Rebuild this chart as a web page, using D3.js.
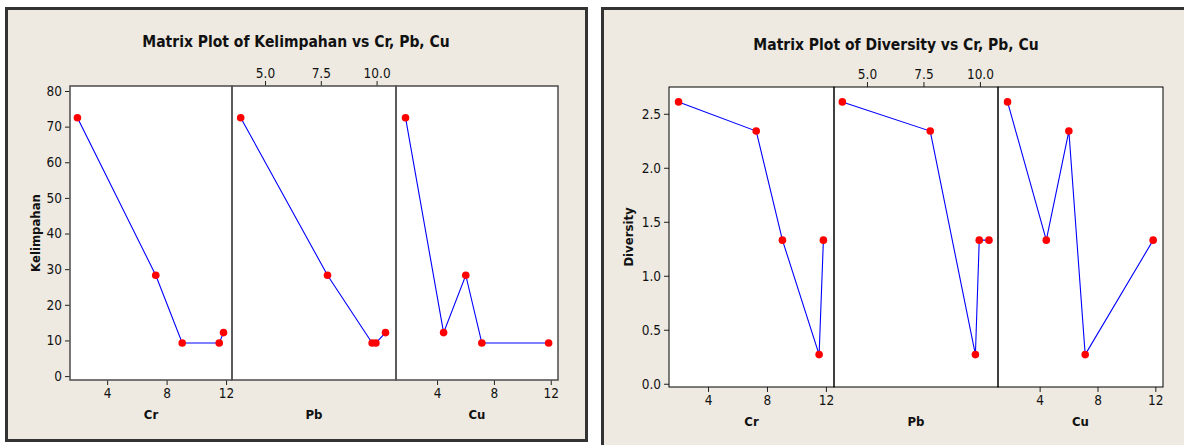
<!DOCTYPE html>
<html lang="id">
<head>
  <meta charset="UTF-8">
  <title>Matrix Plot Kelimpahan dan Diversity vs Cr, Pb, Cu</title>
  <script src="https://d3js.org/d3.v7.min.js"></script>
  <style>
    body { margin: 0; background: #fff; }
    svg text { font-family: "DejaVu Sans Condensed", "DejaVu Sans", sans-serif; font-stretch: condensed; fill: #111; }
    .title { font-weight: bold; font-size: 15.5px; }
    .axlabel { font-weight: bold; font-size: 13px; }
    .tick text { font-size: 13.5px; }
  </style>
</head>
<body>
  <div id="chart"></div>

  <script>
    // data (5 sites, same order in every array)
    const crValues = [2.0, 7.27, 9.05, 11.54, 11.83];
    const pbValues = [3.91, 7.8, 9.97, 9.8, 10.4];
    const cuValues = [1.78, 6.02, 11.85, 7.15, 4.46];
    const kelimpahanValues = [72.5, 28.3, 9.3, 9.3, 12.2];
    const diversityValues = [2.61, 2.34, 1.33, 0.27, 1.33];

    const predictorNames = ["Cr", "Pb", "Cu"];
    const crTicks = [4, 8, 12];
    const pbTicks = [5.0, 7.5, 10.0];
    const cuTicks = [4, 8, 12];
    const kelimpahanTicks = [0, 10, 20, 30, 40, 50, 60, 70, 80];
    const diversityTicks = [0.0, 0.5, 1.0, 1.5, 2.0, 2.5];

    const svg = d3.select("#chart").append("svg")
      .attr("width", 1184).attr("height", 445);

    const charts = [
      {
        title: "Matrix Plot of Kelimpahan vs Cr, Pb, Cu", yName: "Kelimpahan",
        yValues: kelimpahanValues, yTicks: kelimpahanTicks, yFormat: d3.format("d"), yDomain: [-1.1, 81.4],
        frame: {x: 6.5, y: 8.5, w: 580, h: 432}, titleX: 296, titleY: 47,
        left: 70, splits: [232, 396], right: 558, top: 86, bottom: 380,
        frameColor: "#555", frameWidth: 1.6, yLabelX: 40,
        xDomains: [[1.5, 12.4], [3.52, 10.87], [1.11, 12.51]]
      },
      {
        title: "Matrix Plot of Diversity vs Cr, Pb, Cu", yName: "Diversity",
        yValues: diversityValues, yTicks: diversityTicks, yFormat: d3.format(".1f"), yDomain: [-0.03, 2.748],
        frame: {x: 602.5, y: 8.5, w: 600, h: 500}, titleX: 896, titleY: 50,
        left: 669, splits: [834, 998], right: 1163, top: 87, bottom: 387,
        frameColor: "#000", frameWidth: 1, yLabelX: 633,
        xDomains: [[1.35, 12.55], [3.54, 10.8], [1.12, 12.53]]
      }
    ];

    const xValueSets = [crValues, pbValues, cuValues];
    const xTickSets = [crTicks, pbTicks, cuTicks];

    charts.forEach(c => {
      const g = svg.append("g");

      g.append("rect")
        .attr("x", c.frame.x).attr("y", c.frame.y)
        .attr("width", c.frame.w).attr("height", c.frame.h)
        .attr("fill", "#eeeae1").attr("stroke", "#333").attr("stroke-width", 3);

      g.append("text").attr("class", "title")
        .attr("x", c.titleX).attr("y", c.titleY)
        .attr("text-anchor", "middle").text(c.title);

      const y = d3.scaleLinear().domain(c.yDomain).range([c.bottom, c.top]);
      const edges = [c.left, ...c.splits, c.right];

      // panel backgrounds
      g.selectAll(".panel").data(predictorNames).enter().append("rect")
        .attr("x", (d, i) => edges[i]).attr("y", c.top)
        .attr("width", (d, i) => edges[i + 1] - edges[i]).attr("height", c.bottom - c.top)
        .attr("fill", "#fff");

      // y axis
      g.append("g")
        .attr("transform", `translate(${c.left},0)`)
        .call(d3.axisLeft(y).tickValues(c.yTicks).tickFormat(c.yFormat).tickSize(5).tickPadding(3))
        .call(a => a.select(".domain").remove())
        .call(a => a.selectAll("line").attr("stroke", "#222"));

      g.append("text").attr("class", "axlabel")
        .attr("transform", `translate(${c.yLabelX},${(c.top + c.bottom) / 2}) rotate(-90)`)
        .attr("text-anchor", "middle").text(c.yName);

      predictorNames.forEach((name, i) => {
        const x = d3.scaleLinear().domain(c.xDomains[i]).range([edges[i], edges[i + 1]]);
        const axis = i === 1
          ? d3.axisTop(x).tickValues(xTickSets[i]).tickFormat(d3.format(".1f"))
          : d3.axisBottom(x).tickValues(xTickSets[i]).tickFormat(d3.format("d"));
        g.append("g")
          .attr("transform", `translate(0,${i === 1 ? c.top : c.bottom})`)
          .call(axis.tickSize(5).tickPadding(3))
          .call(a => a.select(".domain").remove())
          .call(a => a.selectAll("line").attr("stroke", "#222"));

        g.append("text").attr("class", "axlabel")
          .attr("x", (edges[i] + edges[i + 1]) / 2).attr("y", c.bottom + 39)
          .attr("text-anchor", "middle").text(name);

        const pts = xValueSets[i].map((v, k) => ({x: v, y: c.yValues[k]}))
          .sort((a, b) => a.x - b.x);

        g.append("path").datum(pts)
          .attr("fill", "none").attr("stroke", "#0000ff").attr("stroke-width", 1.1)
          .attr("d", d3.line().x(d => x(d.x)).y(d => y(d.y)));

        g.selectAll(null).data(pts).enter().append("circle")
          .attr("cx", d => x(d.x)).attr("cy", d => y(d.y)).attr("r", 3.8)
          .attr("fill", "#ff0000");
      });

      // panel borders
      g.selectAll(".border").data(predictorNames).enter().append("rect")
        .attr("x", (d, i) => edges[i]).attr("y", c.top)
        .attr("width", (d, i) => edges[i + 1] - edges[i]).attr("height", c.bottom - c.top)
        .attr("fill", "none").attr("stroke", c.frameColor).attr("stroke-width", c.frameWidth);
    });
  </script>
</body>
</html>
